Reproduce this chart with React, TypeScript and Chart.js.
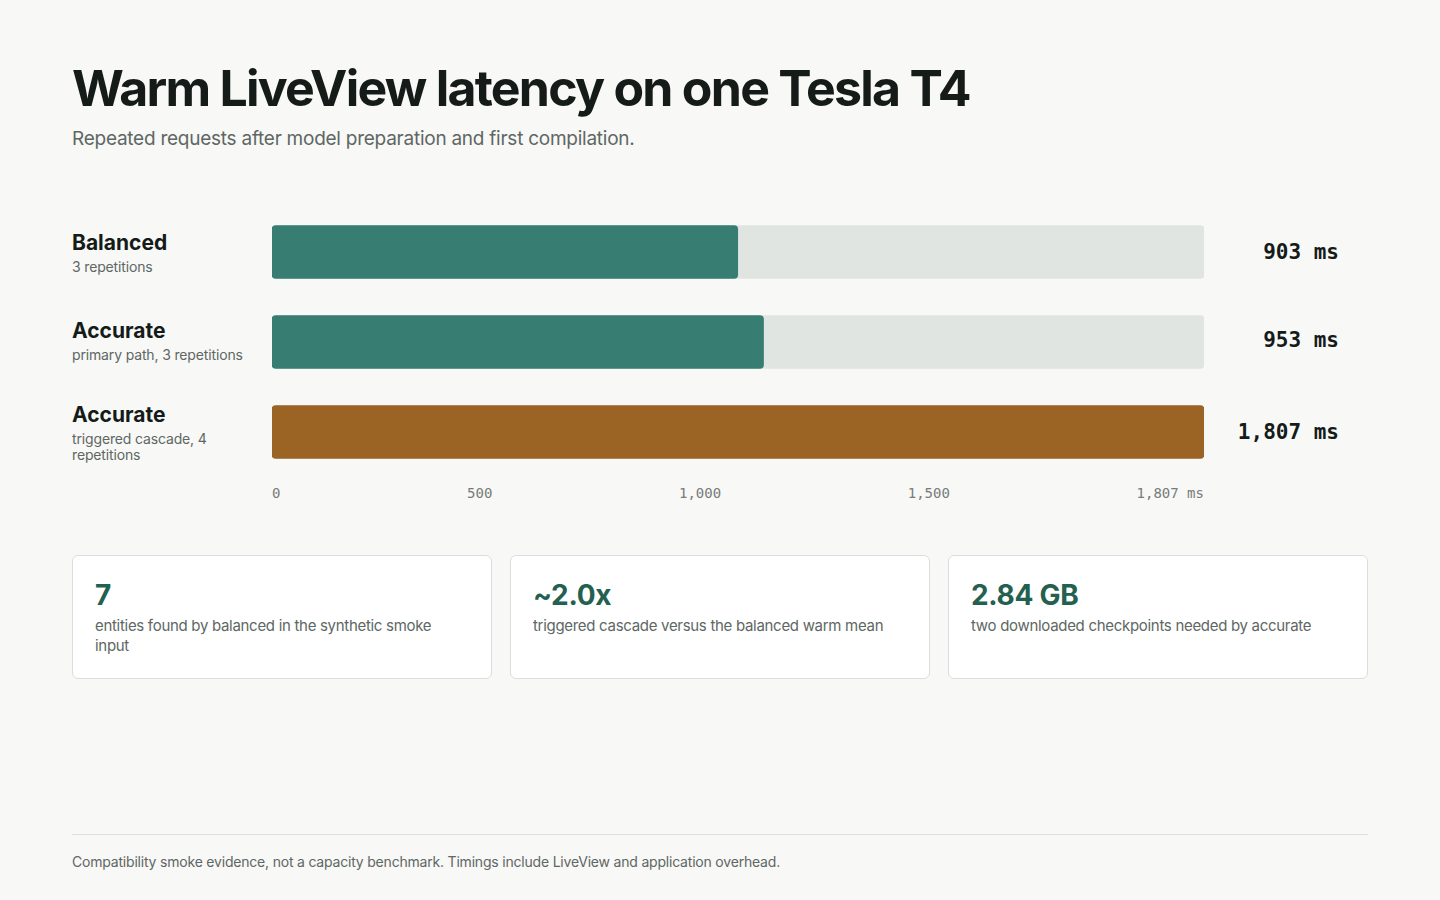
import React, { useEffect, useRef } from "react";
import { Chart, registerables } from "chart.js";

Chart.register(...registerables);

const categories = ["Balanced", "Accurate", "Accurate"];
const categoryNotes = ["3 repetitions", "primary path, 3 repetitions", "triggered cascade, 4 repetitions"];
const latencyMs = [903, 953, 1807];
const scaleMax = 1807;
const barColors = ["#387d72", "#387d72", "#9b6425"];
const tickLabels = ["0", "500", "1,000", "1,500", "1,807 ms"];
const statValues = ["7", "~2.0x", "2.84 GB"];
const statNotes = [
  "entities found by balanced in the synthetic smoke input",
  "triggered cascade versus the balanced warm mean",
  "two downloaded checkpoints needed by accurate",
];

const SANS = "Inter, 'Noto Sans', sans-serif";
const MONO = "'DejaVu Sans Mono', 'Liberation Mono', monospace";

const rowCenters = [251.5, 339.5, 431.5];

function fmt(n: number) {
  return n.toLocaleString("en-US");
}

export default function App() {
  const canvasRef = useRef<HTMLCanvasElement | null>(null);

  useEffect(() => {
    if (!canvasRef.current) return;
    const chart = new Chart(canvasRef.current, {
      type: "bar",
      data: {
        labels: categories,
        datasets: [
          {
            label: "Warm latency (ms)",
            data: latencyMs,
            backgroundColor: barColors,
            borderRadius: 4,
            borderSkipped: false,
            barThickness: 53,
            grouped: false,
          },
          {
            label: "Scale",
            data: latencyMs.map(() => scaleMax),
            backgroundColor: "#e0e5e2",
            borderRadius: 4,
            borderSkipped: false,
            barThickness: 53,
            grouped: false,
          },
        ],
      },
      options: {
        indexAxis: "y",
        animation: false,
        responsive: true,
        maintainAspectRatio: false,
        layout: { padding: 0 },
        plugins: { legend: { display: false }, tooltip: { enabled: false } },
        scales: {
          x: { display: false, min: 0, max: scaleMax },
          y: { display: false },
        },
      },
    });
    return () => chart.destroy();
  }, []);

  return (
    <div
      style={{
        position: "absolute",
        left: 0,
        top: 0,
        width: 1440,
        height: 900,
        background: "#f8f8f7",
        fontFamily: SANS,
        color: "#151b19",
        overflow: "hidden",
      }}
    >
      <div
        style={{
          position: "absolute",
          left: 72,
          top: 63,
          fontSize: 50,
          lineHeight: "50px",
          fontWeight: 700,
          letterSpacing: -1.75,
          whiteSpace: "nowrap",
        }}
      >
        Warm LiveView latency on one Tesla T4
      </div>
      <div
        style={{
          position: "absolute",
          left: 72,
          top: 127,
          fontSize: 19,
          lineHeight: "24px",
          letterSpacing: -0.25,
          color: "#5e6763",
          whiteSpace: "nowrap",
        }}
      >
        Repeated requests after model preparation and first compilation.
      </div>

      {categories.map((c, i) => (
        <div
          key={"l" + i}
          style={{
            position: "absolute",
            left: 72,
            top: rowCenters[i],
            transform: "translateY(-50%)",
            width: 180,
          }}
        >
          <div style={{ fontSize: 21, lineHeight: "26px", fontWeight: 700, color: "#151b19" }}>{c}</div>
          <div style={{ marginTop: 3, fontSize: 14, lineHeight: "16px", letterSpacing: -0.15, color: "#5e6763" }}>
            {categoryNotes[i]}
          </div>
        </div>
      ))}

      <div style={{ position: "absolute", left: 272, top: 206.5, width: 932, height: 270 }}>
        <canvas ref={canvasRef} />
      </div>

      {latencyMs.map((v, i) => (
        <div
          key={"v" + i}
          style={{
            position: "absolute",
            left: 1204,
            width: 135,
            top: rowCenters[i] - 13,
            height: 26,
            lineHeight: "26px",
            textAlign: "right",
            fontFamily: MONO,
            fontWeight: 700,
            fontSize: 21,
            color: "#151b19",
          }}
        >
          {fmt(v)} ms
        </div>
      ))}

      <div
        style={{
          position: "absolute",
          left: 272,
          width: 932,
          top: 485,
          display: "flex",
          justifyContent: "space-between",
          fontFamily: MONO,
          fontSize: 14,
          lineHeight: "16px",
          color: "#767c79",
        }}
      >
        {tickLabels.map((t, i) => (
          <span key={"t" + i}>{t}</span>
        ))}
      </div>

      {statValues.map((s, i) => (
        <div
          key={"c" + i}
          style={{
            position: "absolute",
            left: 72 + i * 438,
            top: 555,
            width: 420,
            height: 124,
            boxSizing: "border-box",
            background: "#ffffff",
            border: "1px solid #dcdedd",
            borderRadius: 6,
            padding: "22px 22px",
          }}
        >
          <div style={{ fontSize: 28, lineHeight: "34px", fontWeight: 700, letterSpacing: -0.3, color: "#24604f" }}>{s}</div>
          <div style={{ marginTop: 4, fontSize: 15, lineHeight: "20px", letterSpacing: -0.3, color: "#5e6763" }}>
            {statNotes[i]}
          </div>
        </div>
      ))}

      <div style={{ position: "absolute", left: 72, top: 834, width: 1296, height: 1, background: "#dedfde" }} />
      <div
        style={{
          position: "absolute",
          left: 72,
          top: 853,
          fontSize: 14,
          lineHeight: "18px",
          letterSpacing: -0.2,
          color: "#5e6763",
          whiteSpace: "nowrap",
        }}
      >
        Compatibility smoke evidence, not a capacity benchmark. Timings include LiveView and application overhead.
      </div>
    </div>
  );
}
